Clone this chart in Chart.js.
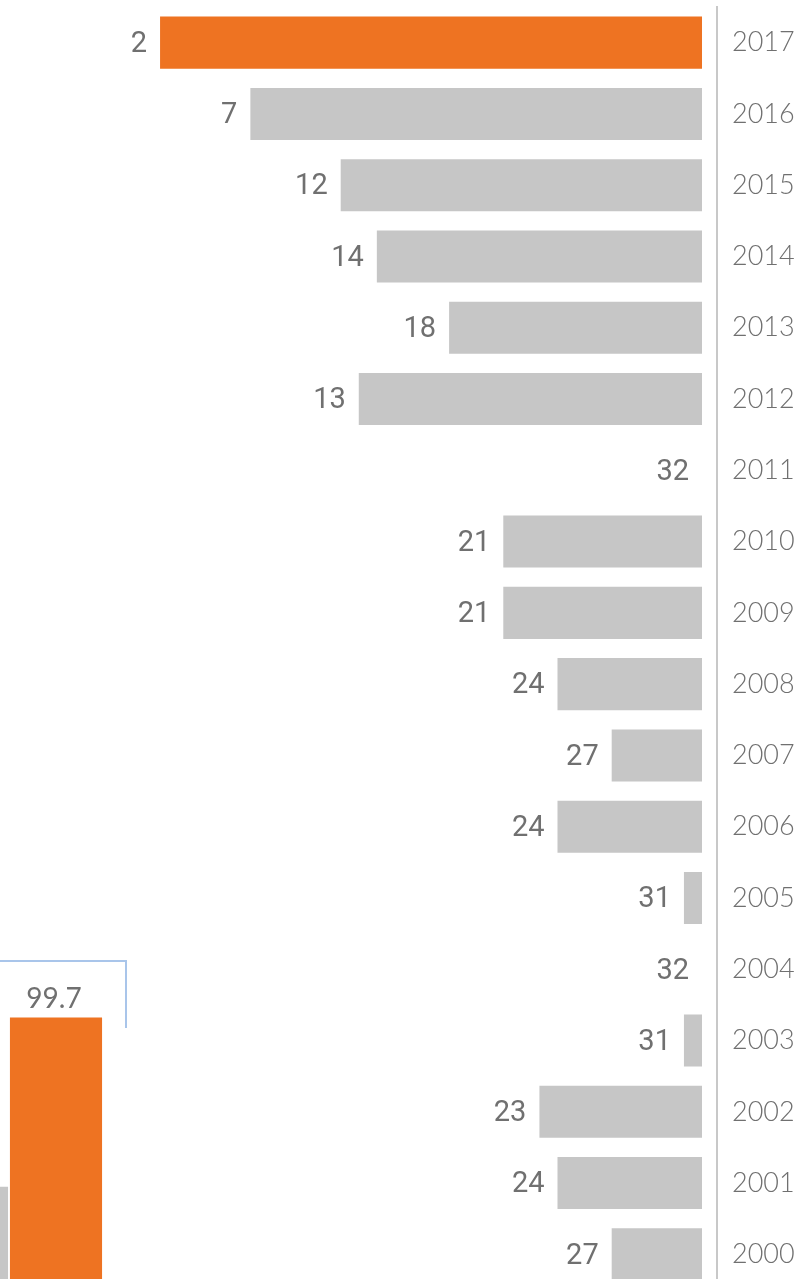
<!DOCTYPE html>
<html>
<head>
<meta charset="utf-8">
<script src="https://cdn.jsdelivr.net/npm/chart.js@4"></script>
<style>
html,body{margin:0;padding:0;background:#fff;overflow:hidden;width:799px;height:1279px;}
#main{position:absolute;left:0;top:0;}
#inset{position:absolute;left:-85px;top:940px;}
</style>
</head>
<body>
<canvas id="main" width="830" height="1290"></canvas>
<canvas id="inset" width="230" height="360"></canvas>
<script>
// ---- data ----
const years = ['2017','2016','2015','2014','2013','2012','2011','2010','2009','2008','2007','2006','2005','2004','2003','2002','2001','2000'];
const ranks = [2,7,12,14,18,13,32,21,21,24,27,24,31,32,31,23,24,27];
const baseRank = 32;
const highlightYear = '2017';

const insetCategories = ['', ''];
const insetValues = [40, 99.7];
const insetValueLabels = ['', '99.7'];

// ---- styles ----
const ORANGE = '#EE7322';
const GRAY = '#C6C6C6';
const TEXT = '#707070';

const valueLabels = {
  id: 'valueLabels',
  afterDatasetsDraw(chart) {
    const ctx = chart.ctx;
    const xs = chart.scales.x;
    const meta = chart.getDatasetMeta(0);
    ctx.save();
    ctx.font = '400 29px Roboto, "Open Sans", sans-serif';
    ctx.fillStyle = TEXT;
    ctx.textAlign = 'right';
    ctx.textBaseline = 'middle';
    meta.data.forEach((el, i) => {
      const px = xs.getPixelForValue(ranks[i]);
      ctx.fillText(String(ranks[i]), px - 13, el.y + 2);
    });
    ctx.restore();
  }
};

new Chart(document.getElementById('main'), {
  type: 'bar',
  data: {
    labels: years,
    datasets: [{
      data: ranks.map(r => [r, baseRank]),
      backgroundColor: years.map(y => y === highlightYear ? ORANGE : GRAY),
      borderWidth: 0,
      barPercentage: 0.73,
      categoryPercentage: 1
    }]
  },
  options: {
    indexAxis: 'y',
    responsive: false,
    animation: false,
    layout: { padding: { top: 7, left: 0, right: 0, bottom: 0 } },
    plugins: { legend: { display: false }, tooltip: { enabled: false } },
    scales: {
      x: { display: false, min: -6.86, max: 32.83 },
      y: {
        position: 'right',
        grid: { display: false, drawTicks: false },
        border: { display: true, color: '#C8C8C8', width: 2 },
        ticks: {
          color: TEXT,
          padding: 15,
          font: { family: 'Lato, "Open Sans", sans-serif', size: 27, weight: '300' }
        },
        afterFit(s) { s.width = 113; s.paddingTop = 0; s.paddingBottom = 0; }
      }
    }
  },
  plugins: [valueLabels]
});

const insetDecor = {
  id: 'insetDecor',
  afterDatasetsDraw(chart) {
    const ctx = chart.ctx;
    const ys = chart.scales.y;
    const area = chart.chartArea;
    const meta = chart.getDatasetMeta(0);
    ctx.save();
    // bracket
    ctx.strokeStyle = '#A9C5EA';
    ctx.lineWidth = 2;
    const top = ys.getPixelForValue(ys.max) + 1;
    const bx = area.right + 23;
    ctx.beginPath();
    ctx.moveTo(0, top);
    ctx.lineTo(bx, top);
    ctx.lineTo(bx, ys.getPixelForValue(96));
    ctx.stroke();
    // labels
    ctx.font = '400 28px Lato, "Open Sans", sans-serif';
    ctx.fillStyle = TEXT;
    ctx.textAlign = 'center';
    ctx.textBaseline = 'middle';
    meta.data.forEach((el, i) => {
      if (insetValueLabels[i]) ctx.fillText(insetValueLabels[i], el.x - 2, el.y - 19);
    });
    ctx.restore();
  }
};

new Chart(document.getElementById('inset'), {
  type: 'bar',
  data: {
    labels: insetCategories,
    datasets: [{
      data: insetValues,
      backgroundColor: [GRAY, ORANGE],
      borderWidth: 0,
      barPercentage: 0.98,
      categoryPercentage: 1
    }]
  },
  options: {
    responsive: false,
    animation: false,
    layout: { padding: { top: 20, right: 42, left: 0, bottom: 0 } },
    plugins: { legend: { display: false }, tooltip: { enabled: false } },
    scales: {
      x: { display: false },
      y: { display: false, min: 0, max: 120 }
    }
  },
  plugins: [insetDecor]
});
</script>
</body>
</html>
